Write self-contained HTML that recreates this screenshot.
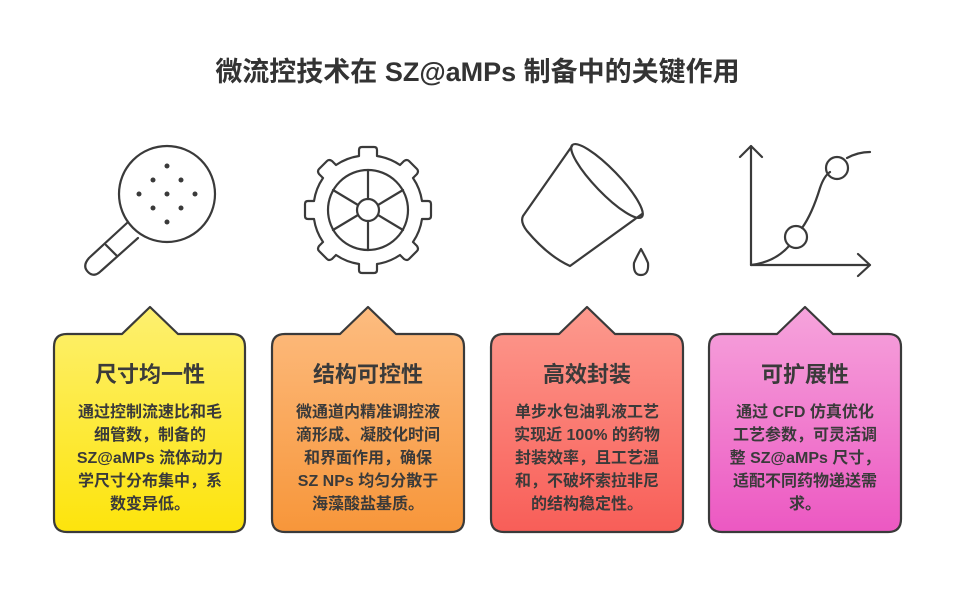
<!DOCTYPE html>
<html><head><meta charset="utf-8"><style>
body{margin:0;width:955px;height:596px;background:#fff;font-family:"Liberation Sans","Noto Sans CJK SC",sans-serif;position:relative;overflow:hidden}
.t{position:absolute;left:0;width:955px;top:55px;text-align:center;font-size:27px;line-height:34px;font-weight:bold;color:#333}
.c{position:absolute;top:334px;width:192px;height:198px;box-sizing:border-box;text-align:center;color:#3a3a3a}
.c h3{margin:29px 0 0;font-size:22px;line-height:24px}
.c p{margin:14px 0 0;font-size:16px;line-height:23px;font-weight:bold;white-space:nowrap}
</style></head><body>
<div class="t">微流控技术在 SZ@aMPs 制备中的关键作用</div>
<svg width="955" height="596" style="position:absolute;left:0;top:0" fill="none" stroke="#3a3a3a" stroke-width="2.2" stroke-linecap="round" stroke-linejoin="round">
<defs>
<linearGradient id="g1" x1="0" y1="0" x2="0" y2="1"><stop offset="0" stop-color="#fdf070"/><stop offset="1" stop-color="#fde40c"/></linearGradient>
<linearGradient id="g2" x1="0" y1="0" x2="0" y2="1"><stop offset="0" stop-color="#fdbc80"/><stop offset="1" stop-color="#f7963a"/></linearGradient>
<linearGradient id="g3" x1="0" y1="0" x2="0" y2="1"><stop offset="0" stop-color="#fd9a8e"/><stop offset="1" stop-color="#f85e58"/></linearGradient>
<linearGradient id="g4" x1="0" y1="0" x2="0" y2="1"><stop offset="0" stop-color="#f6a4dc"/><stop offset="1" stop-color="#ec58c2"/></linearGradient>
</defs>
<path d="M67 334 H122 L150 307 L178 334 H232 Q245 334 245 347 V519 Q245 532 232 532 H67 Q54 532 54 519 V347 Q54 334 67 334Z" fill="url(#g1)"/>
<path d="M285 334 H340 L368 307 L396 334 H451 Q464 334 464 347 V519 Q464 532 451 532 H285 Q272 532 272 519 V347 Q272 334 285 334Z" fill="url(#g2)"/>
<path d="M504 334 H559 L587 307 L615 334 H670 Q683 334 683 347 V519 Q683 532 670 532 H504 Q491 532 491 519 V347 Q491 334 504 334Z" fill="url(#g3)"/>
<path d="M722 334 H777 L805 307 L833 334 H888 Q901 334 901 347 V519 Q901 532 888 532 H722 Q709 532 709 519 V347 Q709 334 722 334Z" fill="url(#g4)"/>
<circle cx="167" cy="194" r="48"/>
<path d="M127 223 L89 258 Q82 266 88 272 Q94 278 101 271 L138 238"/>
<path d="M106 245 L117 256"/>
<g fill="#3a3a3a" stroke="none">
<circle cx="167" cy="166" r="2.5"/><circle cx="153" cy="180" r="2.5"/><circle cx="181" cy="180" r="2.5"/>
<circle cx="139" cy="194" r="2.5"/><circle cx="167" cy="194" r="2.5"/><circle cx="195" cy="194" r="2.5"/>
<circle cx="153" cy="208" r="2.5"/><circle cx="181" cy="208" r="2.5"/><circle cx="167" cy="222" r="2.5"/></g>
<g transform="translate(368,210)">
<circle r="40"/><circle r="11"/>
<path d="M0 -40V-11M0 11V40M-35 -20L-10 -5M10 5L35 20M-35 20L-10 5M10 -5L35 -20"/>
<path d="M-9 -54 V-60 Q-9 -63 -6 -63 H6 Q9 -63 9 -60 V-54 M9 -54 A55 55 0 0 1 32 -45 M32 -45 L36 -49 Q39 -51 41 -49 L49 -41 Q51 -39 49 -36 L45 -32 M45 -32 A55 55 0 0 1 54 -9 M54 -9 H60 Q63 -9 63 -6 V6 Q63 9 60 9 H54 M54 9 A55 55 0 0 1 45 32 M45 32 L49 36 Q51 39 49 41 L41 49 Q39 51 36 49 L32 45 M32 45 A55 55 0 0 1 9 54 M9 54 V60 Q9 63 6 63 H-6 Q-9 63 -9 60 V54 M-9 54 A55 55 0 0 1 -32 45 M-32 45 L-36 49 Q-39 51 -41 49 L-49 41 Q-51 39 -49 36 L-45 32 M-45 32 A55 55 0 0 1 -54 9 M-54 9 H-60 Q-63 9 -63 6 V-6 Q-63 -9 -60 -9 H-54 M-54 -9 A55 55 0 0 1 -45 -32 M-45 -32 L-49 -36 Q-51 -39 -49 -41 L-41 -49 Q-39 -51 -36 -49 L-32 -45 M-32 -45 A55 55 0 0 1 -9 -54"/>
</g>
<ellipse cx="607" cy="181" rx="50" ry="12" transform="rotate(46 607 181)"/>
<path d="M572 146 L523 216 Q520 222 527 231 Q548 256 570 266 L642 214"/>
<path d="M641 249 Q636 258 634 263 Q633 275 641 275 Q649 275 648 263 Q646 258 641 249Z"/>
<path d="M751 146 V265 H870 M740 157 L751 146 L762 157 M858 254 L870 265 L858 276"/>
<path d="M751 265 Q775 262 789 246 M802 228 Q812 214 820 188 Q824 176 830 172 M847 158 Q858 152 870 152"/>
<circle cx="796" cy="237" r="11"/><circle cx="837" cy="168" r="11"/>
</svg>
<div class="c" style="left:54px"><h3>尺寸均一性</h3><p>通过控制流速比和毛<br>细管数，制备的<br>SZ@aMPs 流体动力<br>学尺寸分布集中，系<br>数变异低。</p></div>
<div class="c" style="left:272px"><h3>结构可控性</h3><p>微通道内精准调控液<br>滴形成、凝胶化时间<br>和界面作用，确保<br>SZ NPs 均匀分散于<br>海藻酸盐基质。</p></div>
<div class="c" style="left:491px"><h3>高效封装</h3><p>单步水包油乳液工艺<br>实现近 100% 的药物<br>封装效率，且工艺温<br>和，不破坏索拉非尼<br>的结构稳定性。</p></div>
<div class="c" style="left:709px"><h3>可扩展性</h3><p>通过 CFD 仿真优化<br>工艺参数，可灵活调<br>整 SZ@aMPs 尺寸，<br>适配不同药物递送需<br>求。</p></div>
</body></html>
